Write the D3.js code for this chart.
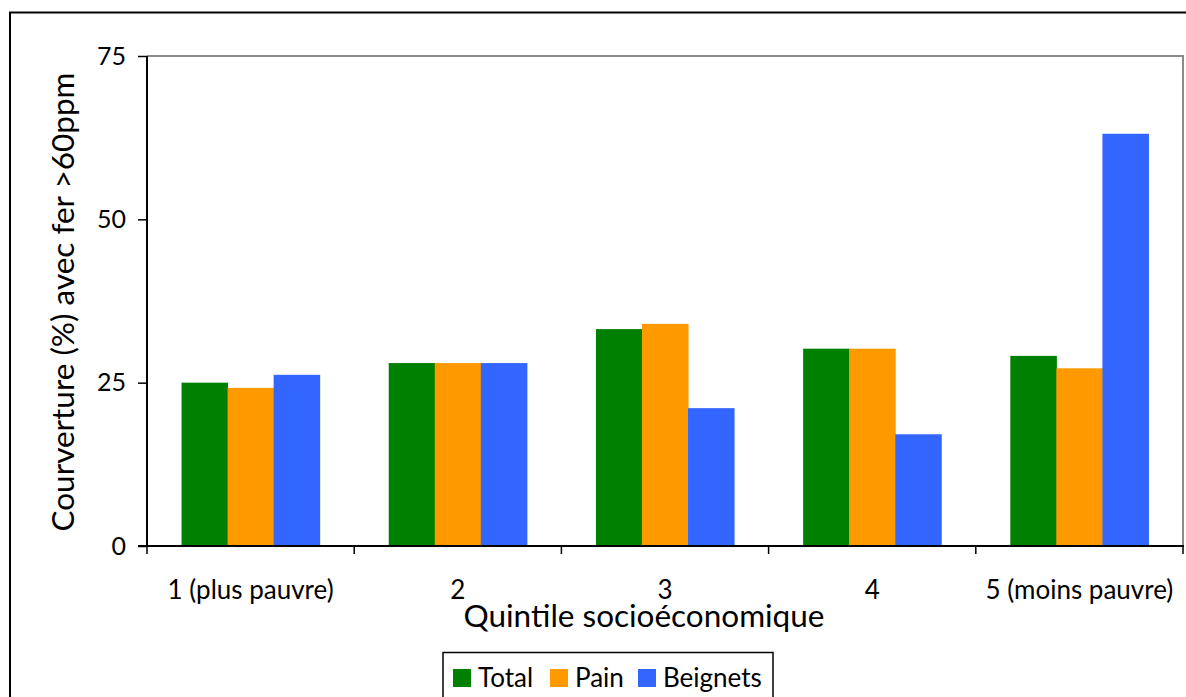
<!DOCTYPE html>
<html>
<head>
<meta charset="utf-8">
<script src="https://cdn.jsdelivr.net/npm/d3@7"></script>
<style>
  html, body { margin: 0; padding: 0; background: #fff; }
  svg { display: block; font-family: Lato, "Open Sans", sans-serif; }
</style>
</head>
<body>
<svg id="chart" width="1186" height="697"></svg>
<script>
// Coverage of fortified products (iron > 60 ppm) by socioeconomic quintile
const categories = ["1 (plus pauvre)", "2", "3", "4", "5 (moins pauvre)"];
const seriesNames = ["Total", "Pain", "Beignets"];
const totalValues = [25.0, 28.0, 33.2, 30.2, 29.1];
const painValues = [24.2, 28.0, 34.0, 30.2, 27.2];
const beignetsValues = [26.2, 28.0, 21.1, 17.1, 63.1];
const yTicks = [0, 25, 50, 75];
const colors = ["#008000", "#FF9900", "#3366FF"];

const seriesValues = [totalValues, painValues, beignetsValues];
const rows = categories.map((c, i) => ({
  category: c,
  values: seriesNames.map((s, j) => ({ series: s, value: seriesValues[j][i], color: colors[j] }))
}));

const svg = d3.select("#chart");
const plot = { left: 147, right: 1183, top: 56, bottom: 546 };

// outer chart frame
svg.append("path")
  .attr("d", "M10,1000 L10,12.5 L1200,12.5")
  .attr("fill", "none").attr("stroke", "#000").attr("stroke-width", 2);

const x = d3.scaleBand().domain(categories).range([plot.left, plot.right]).padding(0);
const inner = d3.scaleBand().domain(seriesNames)
  .range([x.bandwidth() / 6, x.bandwidth() * 5 / 6]).padding(0);
const y = d3.scaleLinear().domain([0, 75]).range([plot.bottom, plot.top]);

// plot area border (top and right)
svg.append("path")
  .attr("d", `M${plot.left},${plot.top} L${plot.right},${plot.top} L${plot.right},${plot.bottom}`)
  .attr("fill", "none").attr("stroke", "#8c8c8c").attr("stroke-width", 2);

// bars
const groups = svg.append("g").selectAll("g").data(rows).join("g")
  .attr("transform", d => `translate(${x(d.category)},0)`);
groups.selectAll("rect").data(d => d.values).join("rect")
  .attr("x", d => inner(d.series))
  .attr("width", inner.bandwidth() + 0.5)
  .attr("y", d => y(d.value))
  .attr("height", d => y(0) - y(d.value))
  .attr("fill", d => d.color);

// y axis
const yAxis = d3.axisLeft(y).tickValues(yTicks).tickSize(9).tickPadding(12).tickFormat(d3.format("d"));
const gy = svg.append("g").attr("transform", `translate(${plot.left},0)`).call(yAxis);
gy.select(".domain").attr("stroke", "#000").attr("stroke-width", 2).attr("d", `M0,${plot.top}V${plot.bottom}`);
gy.selectAll(".tick line").attr("stroke", "#000").attr("stroke-width", 1.5);
gy.selectAll(".tick text").attr("font-size", 25).attr("fill", "#000").attr("font-family", "Lato");

// x axis: ticks at band boundaries, labels centered in bands
const gx = svg.append("g").attr("transform", `translate(0,${plot.bottom})`);
gx.append("line").attr("x1", plot.left - 9).attr("x2", plot.right + 1)
  .attr("stroke", "#000").attr("stroke-width", 2);
const boundaries = categories.map(c => x(c)).concat([plot.right]);
gx.selectAll("line.tk").data(boundaries).join("line").attr("class", "tk")
  .attr("x1", d => d).attr("x2", d => d).attr("y1", 0).attr("y2", 8)
  .attr("stroke", "#000").attr("stroke-width", 1.5);
gx.selectAll("text").data(categories).join("text")
  .attr("x", d => x(d) + x.bandwidth() / 2).attr("y", 53)
  .attr("text-anchor", "middle").attr("font-size", 26).attr("fill", "#000")
  .text(d => d);

// axis titles
svg.append("text").attr("x", 644).attr("y", 627).attr("text-anchor", "middle")
  .attr("font-size", 31.5).attr("fill", "#000").text("Quintile socioéconomique");
svg.append("text").attr("transform", "translate(74,302) rotate(-90)").attr("text-anchor", "middle")
  .attr("font-size", 31.5).attr("fill", "#000").text("Courverture (%) avec fer >60ppm");

// legend
const legend = svg.append("g");
legend.append("rect").attr("x", 443).attr("y", 652.5).attr("width", 330).attr("height", 60)
  .attr("fill", "#fff").attr("stroke", "#000").attr("stroke-width", 1.5);
const legendX = [453, 550, 638];
seriesNames.forEach((s, i) => {
  legend.append("rect").attr("x", legendX[i]).attr("y", 669).attr("width", 18).attr("height", 18).attr("fill", colors[i]);
  legend.append("text").attr("x", legendX[i] + 25).attr("y", 687).attr("font-size", 26).attr("fill", "#000").text(s);
});
</script>
</body>
</html>
